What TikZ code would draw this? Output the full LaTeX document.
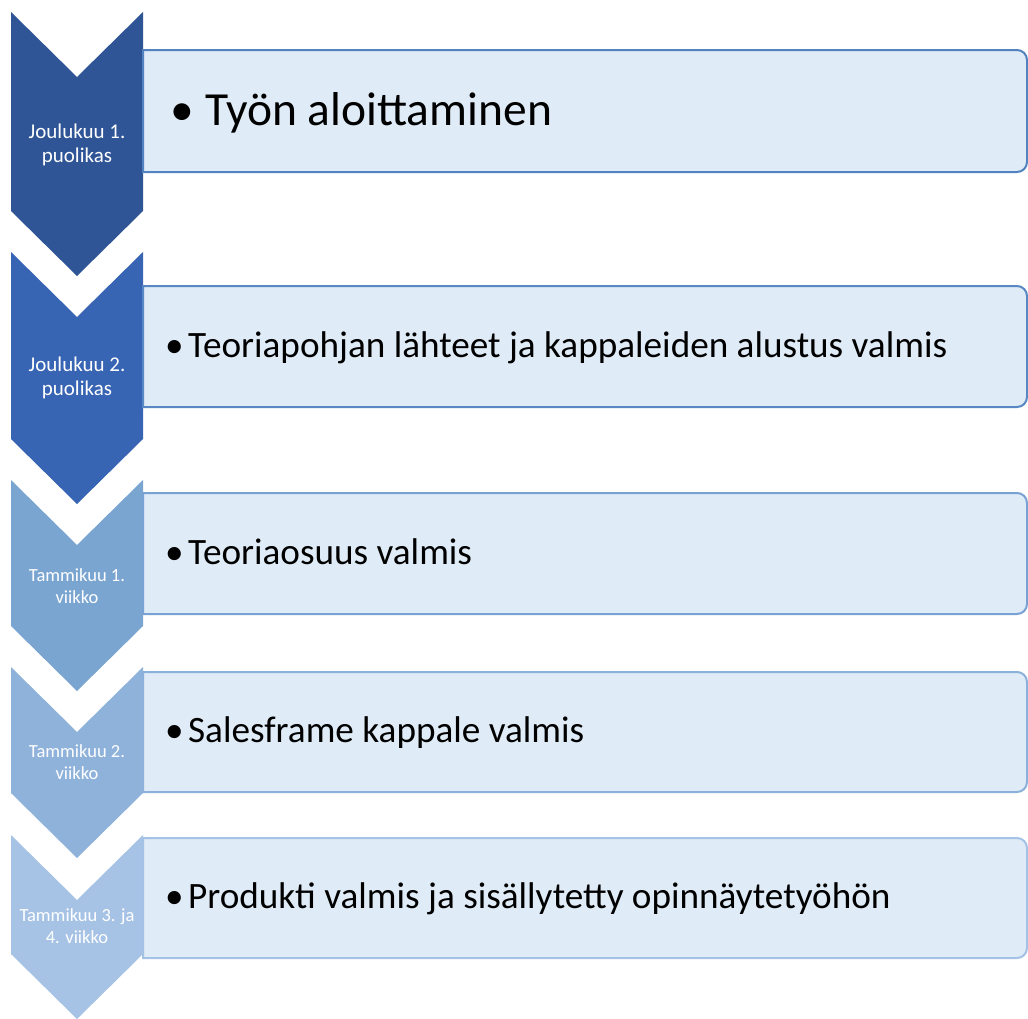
\documentclass[tikz,border=0pt]{standalone}
\usepackage{fontspec}
\setmainfont{Carlito}
\definecolor{chA}{RGB}{47,85,151}
\definecolor{chB}{RGB}{56,100,180}
\definecolor{chC}{RGB}{123,165,209}
\definecolor{chD}{RGB}{143,178,219}
\definecolor{chE}{RGB}{166,195,229}
\definecolor{boxfill}{RGB}{223,235,246}
\definecolor{bdA}{RGB}{82,131,192}
\definecolor{bdB}{RGB}{88,136,196}
\definecolor{bdC}{RGB}{120,162,212}
\definecolor{bdD}{RGB}{140,176,220}
\definecolor{bdE}{RGB}{164,194,229}
\newcommand\mychevron[3]{% top, side-bottom, colour
  \fill[#3] (11,#1) -- (77,#1+65) -- (143,#1) -- (143,#2) -- (77,#2+65) -- (11,#2) -- cycle;}
\newcommand\mybox[3]{% top, bottom, border colour
  \draw[line width=2pt, draw=#3, fill=boxfill] (143,#1) -- (1017,#1)
    arc[start angle=90, end angle=0, radius=10pt] -- (1027,#2-10)
    arc[start angle=0, end angle=-90, radius=10pt] -- (143,#2) -- cycle;}
\tikzset{
  chevtext/.style={text=white, align=center, inner sep=0pt},
  bigA/.style={chevtext, font=\fontsize{21}{24.5}\selectfont},
  bigB/.style={chevtext, font=\fontsize{18.5}{22}\selectfont},
  boxtext/.style={text=black, anchor=base west, inner sep=0pt, font=\fontsize{37.2}{44}\selectfont},
  boxtitle/.style={text=black, anchor=base west, inner sep=0pt, font=\fontsize{47.5}{56}\selectfont}
}
\begin{document}
\begin{tikzpicture}[x=1pt,y=-1pt]
\useasboundingbox (0,0) rectangle (1028,1018);
\fill[white] (0,0) rectangle (1028,1018);
% chevrons
\mychevron{12}{211}{chA}
\mychevron{252}{439}{chB}
\mychevron{480}{626}{chC}
\mychevron{667}{793}{chD}
\mychevron{835}{954}{chE}
% boxes
\mybox{50}{172}{bdA}
\mybox{286}{407}{bdB}
\mybox{493}{614}{bdC}
\mybox{672}{792}{bdD}
\mybox{838}{958}{bdE}
% chevron labels
\node[bigA] (c1) at (77,145) {Joulukuu 1.\\puolikas};
\node[bigA] (c2) at (77,378) {Joulukuu 2.\\puolikas};
\node[bigB] (c3) at (77,586) {Tammikuu 1.\\viikko};
\node[bigB] (c4) at (77,762) {Tammikuu 2.\\viikko};
\node[bigB] (c5) at (77,926) {Tammikuu 3. ja\\4. viikko};
% box texts
\node[boxtitle] (t1) at (205,125) {\llap{•\hspace{11pt}}Työn aloittaminen};
\node[boxtext] (t2) at (188,357) {\llap{•\hspace{4.5pt}}Teoriapohjan lähteet ja kappaleiden alustus valmis};
\node[boxtext] (t3) at (188,564) {\llap{•\hspace{4.5pt}}Teoriaosuus valmis};
\node[boxtext] (t4) at (188,742) {\llap{•\hspace{4.5pt}}Salesframe kappale valmis};
\node[boxtext] (t5) at (188,908) {\llap{•\hspace{4.5pt}}Produkti valmis ja sisällytetty opinnäytetyöhön};
\end{tikzpicture}
\end{document}
